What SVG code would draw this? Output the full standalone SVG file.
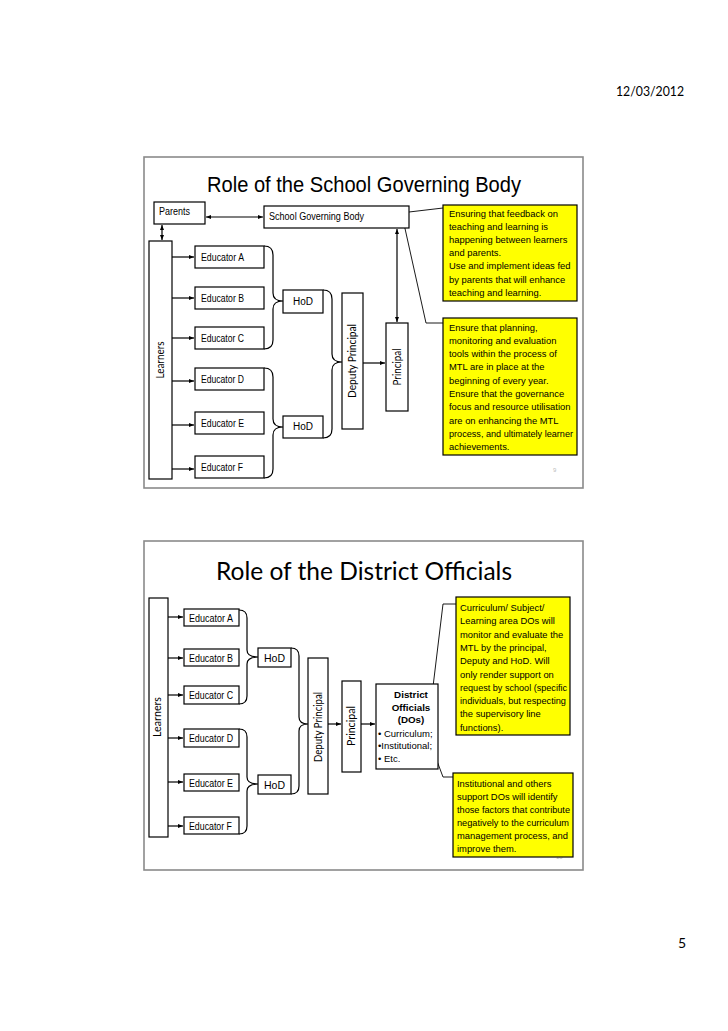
<svg xmlns="http://www.w3.org/2000/svg" width="728" height="1031" viewBox="0 0 728 1031">
<defs>
<marker id="ah" viewBox="0 0 10 10" refX="10" refY="5" markerWidth="5" markerHeight="5" orient="auto-start-reverse" markerUnits="userSpaceOnUse">
<path d="M0,1 L10,5 L0,9 Z" fill="#000"/>
</marker>
<style>
.frame{fill:#fff;stroke:#8a8a8a;stroke-width:1.6}
.box{fill:#fff;stroke:#000;stroke-width:1.2}
.yel{fill:#ffff00;stroke:#000;stroke-width:1.2}
.ln{fill:none;stroke:#000;stroke-width:1.2}
.thin{fill:none;stroke:#000;stroke-width:0.9}
.arr{fill:none;stroke:#000;stroke-width:1.2;marker-end:url(#ah)}
.arr2{fill:none;stroke:#000;stroke-width:1.2;marker-end:url(#ah);marker-start:url(#ah)}
.a{font-family:"Liberation Sans",Arial,sans-serif;fill:#000}
.c{font-family:Lato,"Open Sans",sans-serif;fill:#000}
.t9{font-size:9px}
.ed{font-size:10.3px}
.y{font-size:9.4px}
.pn{font-family:"Liberation Sans",sans-serif;font-size:6px;fill:#bbb}
</style>
</defs>
<rect width="728" height="1031" fill="#fff"/>
<text class="c" x="616" y="96" font-size="13" textLength="68" lengthAdjust="spacingAndGlyphs">12/03/2012</text>
<text class="c" x="678" y="948" font-size="14">5</text>

<!-- Slide 1 -->
<rect class="frame" x="144" y="157" width="439" height="331"/>
<text class="a" x="207" y="192" font-size="21.5" textLength="314" lengthAdjust="spacingAndGlyphs">Role of the School Governing Body</text>
<text class="pn" x="553" y="472">9</text>

<g id="connectors1">
<line class="arr2" x1="206" y1="217" x2="263" y2="217"/>
<line class="arr2" x1="162" y1="225" x2="162" y2="240"/>
<line class="arr2" x1="397" y1="229" x2="397" y2="322"/>
<line class="arr" x1="172" y1="257" x2="194" y2="257"/>
<line class="arr" x1="172" y1="298" x2="194" y2="298"/>
<line class="arr" x1="172" y1="338" x2="194" y2="338"/>
<line class="arr" x1="172" y1="381" x2="194" y2="381"/>
<line class="arr" x1="172" y1="425" x2="194" y2="425"/>
<line class="arr" x1="172" y1="469" x2="194" y2="469"/>
<line class="arr" x1="363" y1="363" x2="385" y2="363"/>
<path class="ln" d="M264,246 Q273,246 273,255 L273,293 Q273,301 283,301 Q273,301 273,309 L273,340 Q273,349 264,349"/>
<path class="ln" d="M264,368 Q273,368 273,377 L273,419 Q273,427 283,427 Q273,427 273,435 L273,469 Q273,478 264,478"/>
<path class="ln" d="M323,290 Q332,290 332,299 L332,354 Q332,362 342,362 Q332,362 332,370 L332,429 Q332,438 323,438"/>
<polyline class="thin" points="409,212 443,208"/>
<polyline class="thin" points="404,224 426,323 443,323"/>
</g>

<g id="parents"><rect class="box" x="154" y="202" width="51" height="22"/><text class="a ed" x="159" y="215" textLength="31" lengthAdjust="spacingAndGlyphs">Parents</text></g>
<g id="sgb"><rect class="box" x="264" y="206" width="145" height="22"/><text class="a ed" x="269" y="220" textLength="95" lengthAdjust="spacingAndGlyphs">School Governing Body</text></g>
<g id="learners1"><rect class="box" x="149" y="241" width="23" height="238"/><text class="c" font-size="10.5" transform="translate(164,360) rotate(-90)" text-anchor="middle" textLength="37" lengthAdjust="spacingAndGlyphs">Learners</text></g>
<g id="eduA1"><rect class="box" x="195" y="246" width="69" height="22"/><text class="a ed" x="201" y="261" textLength="43" lengthAdjust="spacingAndGlyphs">Educator A</text></g>
<g id="eduB1"><rect class="box" x="195" y="287" width="69" height="22"/><text class="a ed" x="201" y="302" textLength="43" lengthAdjust="spacingAndGlyphs">Educator B</text></g>
<g id="eduC1"><rect class="box" x="195" y="327" width="69" height="22"/><text class="a ed" x="201" y="342" textLength="43" lengthAdjust="spacingAndGlyphs">Educator C</text></g>
<g id="eduD1"><rect class="box" x="195" y="368" width="69" height="22"/><text class="a ed" x="201" y="383" textLength="43" lengthAdjust="spacingAndGlyphs">Educator D</text></g>
<g id="eduE1"><rect class="box" x="195" y="412" width="69" height="22"/><text class="a ed" x="201" y="427" textLength="43" lengthAdjust="spacingAndGlyphs">Educator E</text></g>
<g id="eduF1"><rect class="box" x="195" y="456" width="69" height="22"/><text class="a ed" x="201" y="471" textLength="42" lengthAdjust="spacingAndGlyphs">Educator F</text></g>
<g id="hod1a"><rect class="box" x="283" y="290" width="40" height="23"/><text class="a" font-size="10" x="303" y="305" text-anchor="middle">HoD</text></g>
<g id="hod1b"><rect class="box" x="283" y="416" width="40" height="22"/><text class="a" font-size="10" x="303" y="430" text-anchor="middle">HoD</text></g>
<g id="deputy1"><rect class="box" x="342" y="293" width="21" height="136"/><text class="c" font-size="10.5" transform="translate(356,361) rotate(-90)" text-anchor="middle" textLength="74" lengthAdjust="spacingAndGlyphs">Deputy Principal</text></g>
<g id="principal1"><rect class="box" x="386" y="323" width="22" height="88"/><text class="c" font-size="10.5" transform="translate(401,367) rotate(-90)" text-anchor="middle" textLength="37" lengthAdjust="spacingAndGlyphs">Principal</text></g>
<g id="note1"><rect class="yel" x="443" y="205" width="134" height="96"/>
<text class="a y" x="449" y="216.5"><tspan x="449">Ensuring that feedback on</tspan><tspan x="449" dy="13.2">teaching and learning is</tspan><tspan x="449" dy="13.2">happening between learners</tspan><tspan x="449" dy="13.2">and parents.</tspan><tspan x="449" dy="13.2">Use and implement ideas fed</tspan><tspan x="449" dy="13.2">by parents that will enhance</tspan><tspan x="449" dy="13.2">teaching and learning.</tspan></text></g>
<g id="note2"><rect class="yel" x="443" y="318" width="134" height="137"/>
<text class="a y" x="449" y="330.5"><tspan x="449">Ensure that planning,</tspan><tspan x="449" dy="13.3">monitoring and evaluation</tspan><tspan x="449" dy="13.3">tools within the process of</tspan><tspan x="449" dy="13.3">MTL are in place at the</tspan><tspan x="449" dy="13.3">beginning of every year.</tspan><tspan x="449" dy="13.3">Ensure that the governance</tspan><tspan x="449" dy="13.3">focus and resource utilisation</tspan><tspan x="449" dy="13.3">are on enhancing the MTL</tspan><tspan x="449" dy="13.3" textLength="124" lengthAdjust="spacingAndGlyphs">process, and ultimately learner</tspan><tspan x="449" dy="13.3">achievements.</tspan></text></g>

<!-- Slide 2 -->
<rect class="frame" x="144" y="541" width="439" height="329"/>
<text class="c" x="216" y="580" font-size="25" textLength="296" lengthAdjust="spacingAndGlyphs">Role of the District Officials</text>
<text class="pn" x="556" y="859">10</text>

<g id="connectors2">
<line class="arr" x1="168" y1="617" x2="183" y2="617"/>
<line class="arr" x1="168" y1="658" x2="183" y2="658"/>
<line class="arr" x1="168" y1="695" x2="183" y2="695"/>
<line class="arr" x1="168" y1="738" x2="183" y2="738"/>
<line class="arr" x1="168" y1="782" x2="183" y2="782"/>
<line class="arr" x1="168" y1="826" x2="183" y2="826"/>
<line class="arr" x1="328" y1="724" x2="341" y2="724"/>
<line class="arr" x1="361" y1="724" x2="375" y2="724"/>
<path class="ln" d="M239,610 Q247,610 247,618 L247,650 Q247,657 258,657 Q247,657 247,664 L247,696 Q247,704 239,704"/>
<path class="ln" d="M239,729 Q247,729 247,737 L247,777 Q247,784 258,784 Q247,784 247,791 L247,826 Q247,834 239,834"/>
<path class="ln" d="M291,648 Q299,648 299,656 L299,717 Q299,724 308,724 Q299,724 299,731 L299,786 Q299,794 291,794"/>
<polyline class="thin" points="432,695 443,604 457,604"/>
<polyline class="thin" points="437,761 443,777 453,777"/>
</g>

<g id="learners2"><rect class="box" x="149" y="598" width="19" height="239"/><text class="c" font-size="10.5" transform="translate(161,717) rotate(-90)" text-anchor="middle" textLength="40" lengthAdjust="spacingAndGlyphs">Learners</text></g>
<g id="eduA2"><rect class="box" x="184" y="609" width="55" height="17"/><text class="a ed" x="189" y="621.5" textLength="44" lengthAdjust="spacingAndGlyphs">Educator A</text></g>
<g id="eduB2"><rect class="box" x="184" y="649" width="55" height="17"/><text class="a ed" x="189" y="661.5" textLength="44" lengthAdjust="spacingAndGlyphs">Educator B</text></g>
<g id="eduC2"><rect class="box" x="184" y="686" width="55" height="18"/><text class="a ed" x="189" y="699" textLength="44" lengthAdjust="spacingAndGlyphs">Educator C</text></g>
<g id="eduD2"><rect class="box" x="184" y="729" width="55" height="18"/><text class="a ed" x="189" y="742" textLength="44" lengthAdjust="spacingAndGlyphs">Educator D</text></g>
<g id="eduE2"><rect class="box" x="184" y="774" width="55" height="17"/><text class="a ed" x="189" y="786.5" textLength="44" lengthAdjust="spacingAndGlyphs">Educator E</text></g>
<g id="eduF2"><rect class="box" x="184" y="817" width="55" height="17"/><text class="a ed" x="189" y="829.5" textLength="43" lengthAdjust="spacingAndGlyphs">Educator F</text></g>
<g id="hod2a"><rect class="box" x="258" y="648" width="33" height="19"/><text class="a" font-size="10.5" x="274.5" y="661.5" text-anchor="middle">HoD</text></g>
<g id="hod2b"><rect class="box" x="258" y="775" width="33" height="19"/><text class="a" font-size="10.5" x="274.5" y="788.5" text-anchor="middle">HoD</text></g>
<g id="deputy2"><rect class="box" x="308" y="658" width="20" height="136"/><text class="c" font-size="10.5" transform="translate(322,727) rotate(-90)" text-anchor="middle" textLength="70" lengthAdjust="spacingAndGlyphs">Deputy Principal</text></g>
<g id="principal2"><rect class="box" x="342" y="681" width="19" height="91"/><text class="c" font-size="10.5" transform="translate(355,726) rotate(-90)" text-anchor="middle" textLength="40" lengthAdjust="spacingAndGlyphs">Principal</text></g>
<g id="district"><rect class="box" x="376" y="684" width="62" height="85"/>
<text class="a" font-size="9.8" font-weight="bold" text-anchor="middle"><tspan x="411" y="698">District</tspan><tspan x="411" y="711">Officials</tspan><tspan x="411" y="723">(DOs)</tspan></text>
<text class="a" font-size="9.5"><tspan x="378" y="736.5">• Curriculum;</tspan><tspan x="378" y="749">•Institutional;</tspan><tspan x="378" y="761.5">• Etc.</tspan></text></g>
<g id="note3"><rect class="yel" x="456" y="597" width="114" height="138"/>
<text class="a y" x="460" y="611"><tspan x="460">Curriculum/ Subject/</tspan><tspan x="460" dy="13.3">Learning area DOs will</tspan><tspan x="460" dy="13.3">monitor and evaluate the</tspan><tspan x="460" dy="13.3">MTL by the principal,</tspan><tspan x="460" dy="13.3">Deputy and HoD.  Will</tspan><tspan x="460" dy="13.3">only render support on</tspan><tspan x="460" dy="13.3" textLength="107" lengthAdjust="spacingAndGlyphs">request by school (specific</tspan><tspan x="460" dy="13.3" textLength="106" lengthAdjust="spacingAndGlyphs">individuals, but respecting</tspan><tspan x="460" dy="13.3">the supervisory line</tspan><tspan x="460" dy="13.3">functions).</tspan></text></g>
<g id="note4"><rect class="yel" x="453" y="773" width="120" height="84"/>
<text class="a y" x="457" y="786.5"><tspan x="457">Institutional and others</tspan><tspan x="457" dy="13">support DOs will identify</tspan><tspan x="457" dy="13" textLength="113" lengthAdjust="spacingAndGlyphs">those factors that contribute</tspan><tspan x="457" dy="13" textLength="112" lengthAdjust="spacingAndGlyphs">negatively to the curriculum</tspan><tspan x="457" dy="13">management process, and</tspan><tspan x="457" dy="13">improve them.</tspan></text></g>
</svg>
